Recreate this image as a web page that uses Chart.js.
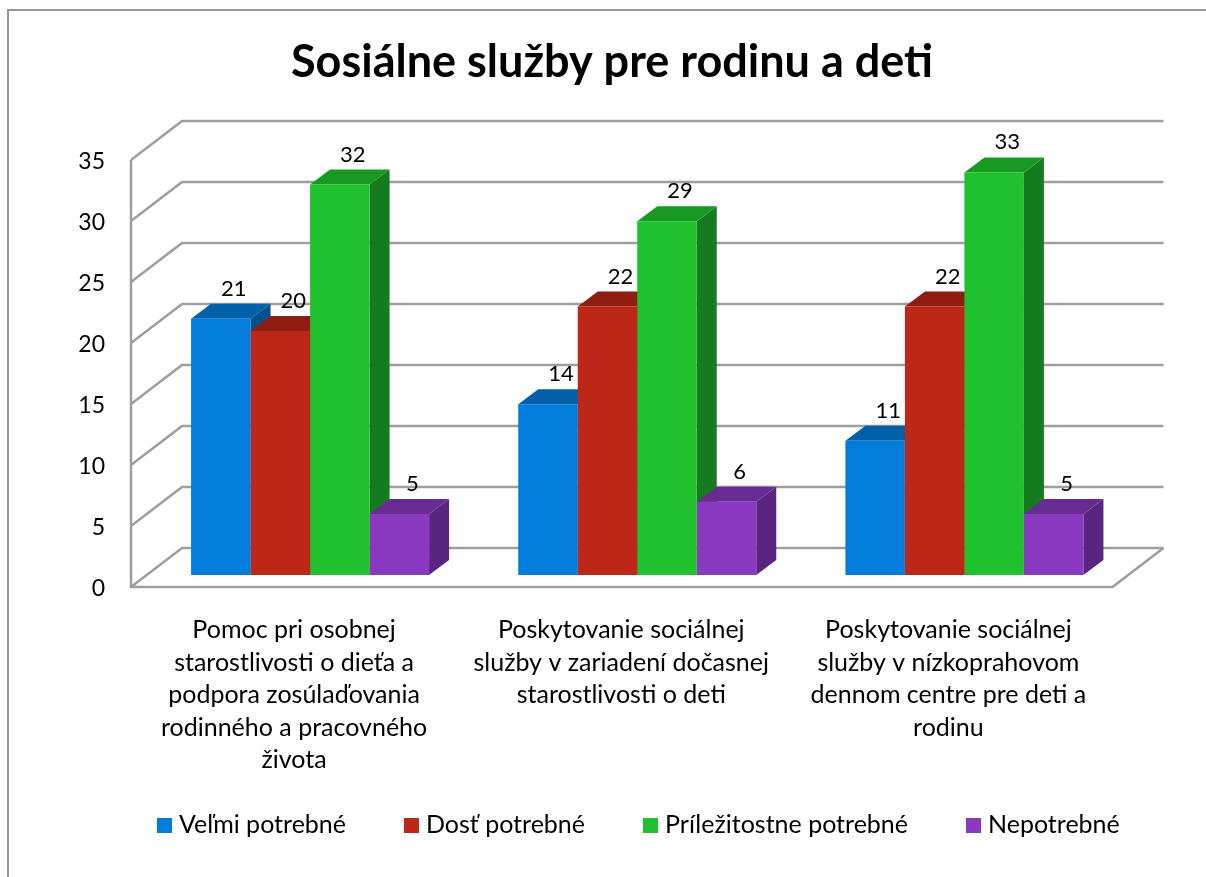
<!DOCTYPE html>
<html>
<head>
<meta charset="utf-8">
<title>Sosiálne služby pre rodinu a deti</title>
<script src="https://cdn.jsdelivr.net/npm/chart.js@4/dist/chart.umd.min.js"></script>
<style>
  html, body { margin: 0; padding: 0; background: #fff; }
  canvas { display: block; }
</style>
</head>
<body>
<canvas id="sluzbyChart" width="1206" height="877"></canvas>
<script>
const chartTitle = 'Sosiálne služby pre rodinu a deti';
const categories = [
    ['Pomoc pri osobnej', 'starostlivosti o dieťa a', 'podpora zosúlaďovania', 'rodinného a pracovného', 'života'],
    ['Poskytovanie sociálnej', 'služby v zariadení dočasnej', 'starostlivosti o deti'],
    ['Poskytovanie sociálnej', 'služby v nízkoprahovom', 'dennom centre pre deti a', 'rodinu']
];
const seriesNames = ['Veľmi potrebné', 'Dosť potrebné', 'Príležitostne potrebné', 'Nepotrebné'];
const velmiPotrebne = [21, 14, 11];
const dostPotrebne = [20, 22, 22];
const prilezitostnePotrebne = [32, 29, 33];
const nepotrebne = [5, 6, 5];

const frontColors = ['#027ddc', '#bc2718', '#1fc12e', '#8939bf'];
const topColors = ['#0260a8', '#8f1d12', '#189922', '#672b91'];
const sideColors = ['#02508c', '#7a180f', '#157b1e', '#5a2580'];
const gridColor = '#9e9e9e';
const fontName = 'Lato, sans-serif';

// 3D look: how far the bars, walls and floor sit from the scale's own plane
const barDepth = { x: 20, y: 15 };
const wall = { frontX: -15.5, backX: 35.5, frontY: 12, backY: -27 };

const depthPlugin = {
    id: 'depth',
    beforeDraw(chart) {
        const c = chart.ctx;
        c.save();
        c.strokeStyle = '#969696';
        c.lineWidth = 2;
        c.beginPath();
        c.moveTo(8, chart.height);
        c.lineTo(8, 10);
        c.lineTo(chart.width, 10);
        c.stroke();
        c.restore();
    },
    beforeDatasetsDraw(chart) {
        const c = chart.ctx;
        const area = chart.chartArea;
        const yScale = chart.scales.y;
        const frontL = area.left + wall.frontX;
        const backL = area.left + wall.backX;
        const frontR = area.right + wall.frontX;
        const backR = area.right + wall.backX;

        c.save();
        c.strokeStyle = gridColor;
        c.lineWidth = 2.5;
        yScale.ticks.forEach((t) => {
            const p = yScale.getPixelForValue(t.value);
            c.beginPath();
            c.moveTo(frontL, p + wall.frontY);
            c.lineTo(backL, p + wall.backY);
            c.lineTo(backR, p + wall.backY);
            c.stroke();
        });
        const p0 = yScale.getPixelForValue(0);
        const pMax = yScale.getPixelForValue(yScale.max);
        c.beginPath();
        c.moveTo(frontL, pMax + wall.frontY);
        c.lineTo(frontL, p0 + wall.frontY);
        c.lineTo(frontR, p0 + wall.frontY);
        c.lineTo(backR, p0 + wall.backY);
        c.stroke();

        // top and side faces, left to right so that the fronts cover them
        categories.forEach((cat, i) => {
            chart.data.datasets.forEach((ds, d) => {
                const bar = chart.getDatasetMeta(d).data[i];
                const l = bar.x - bar.width / 2;
                const r = bar.x + bar.width / 2;
                c.fillStyle = sideColors[d];
                c.beginPath();
                c.moveTo(r, bar.y);
                c.lineTo(r + barDepth.x, bar.y - barDepth.y);
                c.lineTo(r + barDepth.x, bar.base - barDepth.y);
                c.lineTo(r, bar.base);
                c.closePath();
                c.fill();
                c.fillStyle = topColors[d];
                c.beginPath();
                c.moveTo(l, bar.y);
                c.lineTo(l + barDepth.x, bar.y - barDepth.y);
                c.lineTo(r + barDepth.x, bar.y - barDepth.y);
                c.lineTo(r, bar.y);
                c.closePath();
                c.fill();
            });
        });
        c.restore();
    },
    afterDatasetsDraw(chart) {
        const c = chart.ctx;
        c.save();
        c.fillStyle = '#000';
        c.font = '22px ' + fontName;
        c.textAlign = 'center';
        c.textBaseline = 'middle';
        chart.data.datasets.forEach((ds, d) => {
            chart.getDatasetMeta(d).data.forEach((bar, i) => {
                c.fillText(ds.data[i], bar.x + 13, bar.y - 30);
            });
        });

        // legend
        let x = 157;
        c.font = '25px ' + fontName;
        c.textAlign = 'left';
        seriesNames.forEach((name, d) => {
            c.fillStyle = frontColors[d];
            c.fillRect(x, 818, 15, 15);
            c.fillStyle = '#000';
            c.fillText(name, x + 22, 825);
            x += 22 + c.measureText(name).width + 58;
        });
        c.restore();
    }
};

const seriesValues = [velmiPotrebne, dostPotrebne, prilezitostnePotrebne, nepotrebne];

new Chart(document.getElementById('sluzbyChart'), {
    type: 'bar',
    data: {
        labels: categories,
        datasets: seriesNames.map((name, d) => ({
            label: name,
            data: seriesValues[d],
            backgroundColor: frontColors[d],
            barPercentage: 1,
            categoryPercentage: 0.7275
        }))
    },
    options: {
        responsive: false,
        animation: false,
        layout: { padding: { left: 50, right: 32, top: 0, bottom: 0 } },
        plugins: {
            legend: { display: false },
            tooltip: { enabled: false },
            title: {
                display: true,
                text: chartTitle,
                color: '#000',
                font: { family: fontName, size: 45, weight: 'bold', lineHeight: 1.2 },
                padding: { top: 35, bottom: 59 }
            }
        },
        scales: {
            x: {
                grid: { display: false, drawTicks: false },
                border: { display: false },
                ticks: {
                    color: '#000',
                    font: { family: fontName, size: 25, lineHeight: '32.5px' },
                    autoSkip: false,
                    maxRotation: 0,
                    minRotation: 0,
                    padding: 39,
                    labelOffset: -16
                },
                afterFit(scale) { scale.height = 302; }
            },
            y: {
                min: 0,
                max: 35,
                grid: { display: false, drawTicks: false },
                border: { display: false },
                ticks: {
                    stepSize: 5,
                    color: '#000',
                    font: { family: fontName, size: 23 },
                    padding: 41.5,
                    labelOffset: 14
                },
                afterFit(scale) { scale.width = 96.5; }
            },
            // empty axis on the right, only there to centre the title like the original
            spacer: {
                position: 'right',
                grid: { display: false, drawTicks: false },
                border: { display: false },
                ticks: { display: false },
                afterFit(scale) { scale.width = 46; }
            }
        }
    },
    plugins: [depthPlugin]
});
</script>
</body>
</html>
